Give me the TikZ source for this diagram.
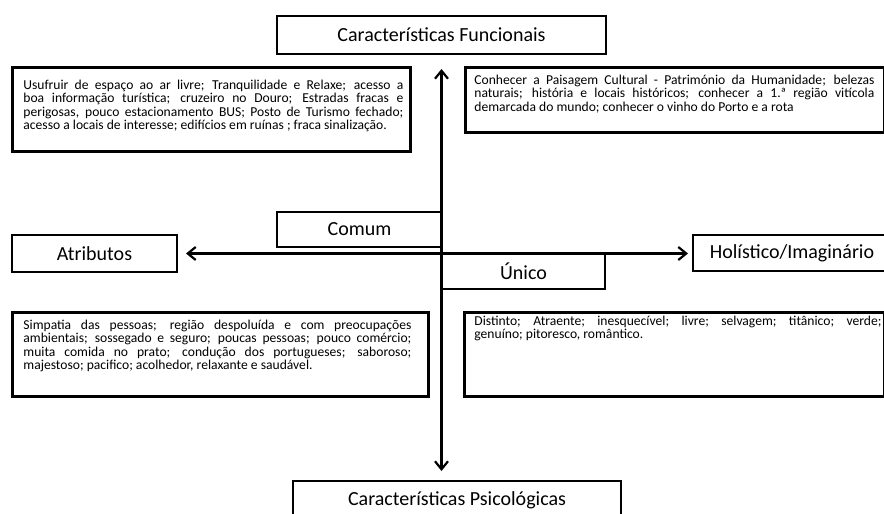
\documentclass[tikz,border=0pt]{standalone}
\usepackage{fontspec}
\setmainfont{Carlito}
\usetikzlibrary{arrows.meta}
% #1 box width, #2 left pad, #3 text width, #4 box height, #5 top pad, #6 text
\newcommand{\txtbody}[6]{\makebox[#1][l]{\hspace*{#2}\parbox[t][#4][t]{#3}{\fontsize{13.6pt}{13.3pt}\selectfont\vspace*{#5}\rule{0pt}{12pt}#6\par}}}
\begin{document}
\begin{tikzpicture}[x=1pt,y=-1pt,
  headbox/.style={draw, line width=2pt, inner sep=0pt, anchor=north west,
    font=\fontsize{20pt}{23pt}\selectfont},
  textbox/.style={draw, line width=2.8pt, inner sep=0pt, anchor=north west},
  axis/.style={line width=2.2pt, {Straight Barb[length=8pt,width=13pt]}-{Straight Barb[length=8pt,width=13pt]}}]
\useasboundingbox[fill=white] (0,0) rectangle (884,514);

% heading boxes
\node[headbox, minimum width=329pt, minimum height=38pt] (funcional) at (276,15) {Características Funcionais};
\node[headbox, minimum width=328pt, minimum height=38pt] (psico) at (292,480) {Características Psicológicas};
\node[headbox, minimum width=165pt, minimum height=37pt] (atributos) at (11,234) {Atributos};
\node[headbox, minimum width=198pt, minimum height=36pt] (holistico) at (692,234) {Holístico/Imaginário};
\node[headbox, minimum width=165pt, minimum height=35pt] (comum) at (276,211) {Comum};
\node[headbox, minimum width=163pt, minimum height=36pt] (unico) at (441,252) {Único};

% text boxes
\node[textbox] (tl) at (11,66) {\txtbody{398pt}{11pt}{380pt}{84pt}{10pt}{Usufruir de espaço ao ar livre; Tranquilidade e Relaxe; acesso a\linebreak boa informação turística; cruzeiro no Douro; Estradas fracas e\linebreak perigosas, pouco estacionamento BUS; Posto de Turismo fechado;\linebreak acesso a locais de interesse; edifícios em ruínas ; fraca sinalização.}};
\node[textbox] (tr) at (464,66) {\txtbody{419pt}{9pt}{400pt}{65pt}{5pt}{Conhecer a Paisagem Cultural - Património da Humanidade; belezas\linebreak naturais; história e locais históricos; conhecer a 1.ª região vitícola\linebreak demarcada do mundo; conhecer o vinho do Porto e a rota}};
\node[textbox] (bl) at (11,311) {\txtbody{416pt}{11pt}{388pt}{84pt}{5pt}{Simpatia das pessoas; região despoluída e com preocupações\linebreak ambientais; sossegado e seguro; poucas pessoas; pouco comércio;\linebreak muita comida no prato; condução dos portugueses; saboroso;\linebreak majestoso; pacifico; acolhedor, relaxante e saudável.}};
\node[textbox] (br) at (463,311) {\txtbody{420pt}{10pt}{407pt}{84pt}{1pt}{Distinto; Atraente; inesquecível; livre; selvagem; titânico; verde;\linebreak genuíno; pitoresco, romântico.}};

% axes
\draw[axis, shorten <=8pt, shorten >=4pt] (atributos.east) -- (atributos.east -| holistico.west);
\draw[axis, shorten <=14pt, shorten >=9pt] (funcional.south) -- (funcional.south |- psico.north);
\end{tikzpicture}
\end{document}
